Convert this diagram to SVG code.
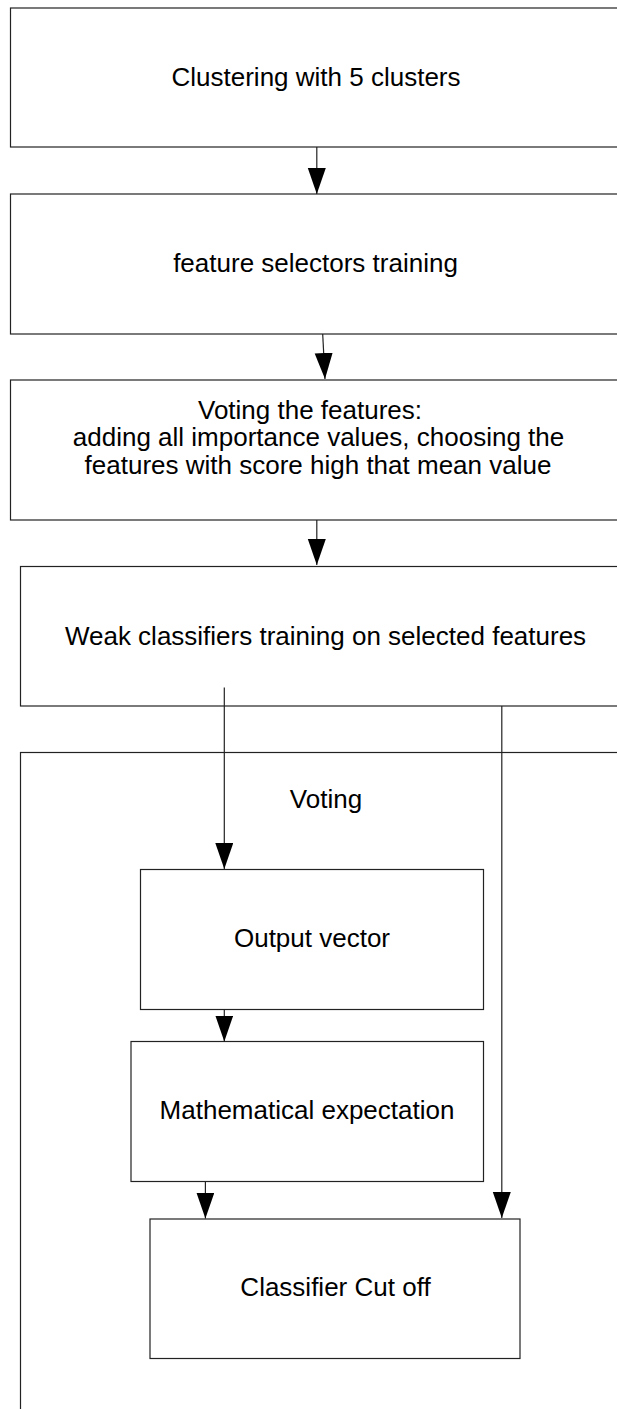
<svg xmlns="http://www.w3.org/2000/svg" width="617" height="1409" viewBox="0 0 617 1409">
  <style>
    .box { fill: #ffffff; stroke: #222222; stroke-width: 1.2; }
    .lbl { font-family: "Liberation Sans", Arial, sans-serif; font-size: 26px; fill: #000000; text-anchor: middle; }
    .wire { fill: none; stroke: #222222; stroke-width: 1.2; }
  </style>
  <defs>
    <marker id="arrow" markerUnits="userSpaceOnUse" markerWidth="27" markerHeight="19" refX="26" refY="9" orient="auto">
      <path d="M0,0 L26,9 L0,18 Z" fill="#000000"/>
    </marker>
  </defs>
  <rect width="617" height="1409" fill="#ffffff"/>

  <!-- outer container drawn first so inner boxes sit on top -->
  <g id="voting">
    <rect class="box" x="20.5" y="752.5" width="620" height="680"/>
    <text class="lbl" x="326" y="808">Voting</text>
  </g>

  <g id="clustering">
    <rect class="box" x="10.5" y="8" width="620" height="139"/>
    <text class="lbl" x="316" y="86">Clustering with 5 clusters</text>
  </g>

  <g id="feature-selectors">
    <rect class="box" x="10.5" y="194" width="620" height="140"/>
    <text class="lbl" x="315.5" y="272">feature selectors training</text>
  </g>

  <g id="feature-voting">
    <rect class="box" x="10.5" y="380" width="620" height="140"/>
    <text class="lbl" x="310" y="418.5">Voting the features:</text>
    <text class="lbl" x="318.5" y="446">adding all importance values, choosing the</text>
    <text class="lbl" x="318" y="473.5">features with score high that mean value</text>
  </g>

  <g id="weak-classifiers">
    <rect class="box" x="20.5" y="566.5" width="620" height="139.5"/>
    <text class="lbl" x="325.5" y="645">Weak classifiers training on selected features</text>
  </g>

  <g id="output-vector">
    <rect class="box" x="140.5" y="869.5" width="343" height="140"/>
    <text class="lbl" x="312" y="947">Output vector</text>
  </g>

  <g id="expectation">
    <rect class="box" x="131" y="1041.5" width="352.5" height="140"/>
    <text class="lbl" x="307" y="1119">Mathematical expectation</text>
  </g>

  <g id="cutoff">
    <rect class="box" x="150" y="1219" width="370" height="139.5"/>
    <text class="lbl" x="335.5" y="1296">Classifier Cut off</text>
  </g>

  <g id="connectors">
    <line class="wire" x1="316.8" y1="147" x2="316.8" y2="194" marker-end="url(#arrow)"/>
    <line class="wire" x1="322.7" y1="334" x2="325" y2="379" marker-end="url(#arrow)"/>
    <line class="wire" x1="316.8" y1="520" x2="316.8" y2="565" marker-end="url(#arrow)"/>
    <line class="wire" x1="224.3" y1="687.5" x2="224.3" y2="869" marker-end="url(#arrow)"/>
    <line class="wire" x1="501.8" y1="706" x2="501.8" y2="1218" marker-end="url(#arrow)"/>
    <line class="wire" x1="224.3" y1="1009.5" x2="224.3" y2="1041.5" marker-end="url(#arrow)"/>
    <line class="wire" x1="205.4" y1="1181.5" x2="205.4" y2="1218.5" marker-end="url(#arrow)"/>
  </g>
</svg>
